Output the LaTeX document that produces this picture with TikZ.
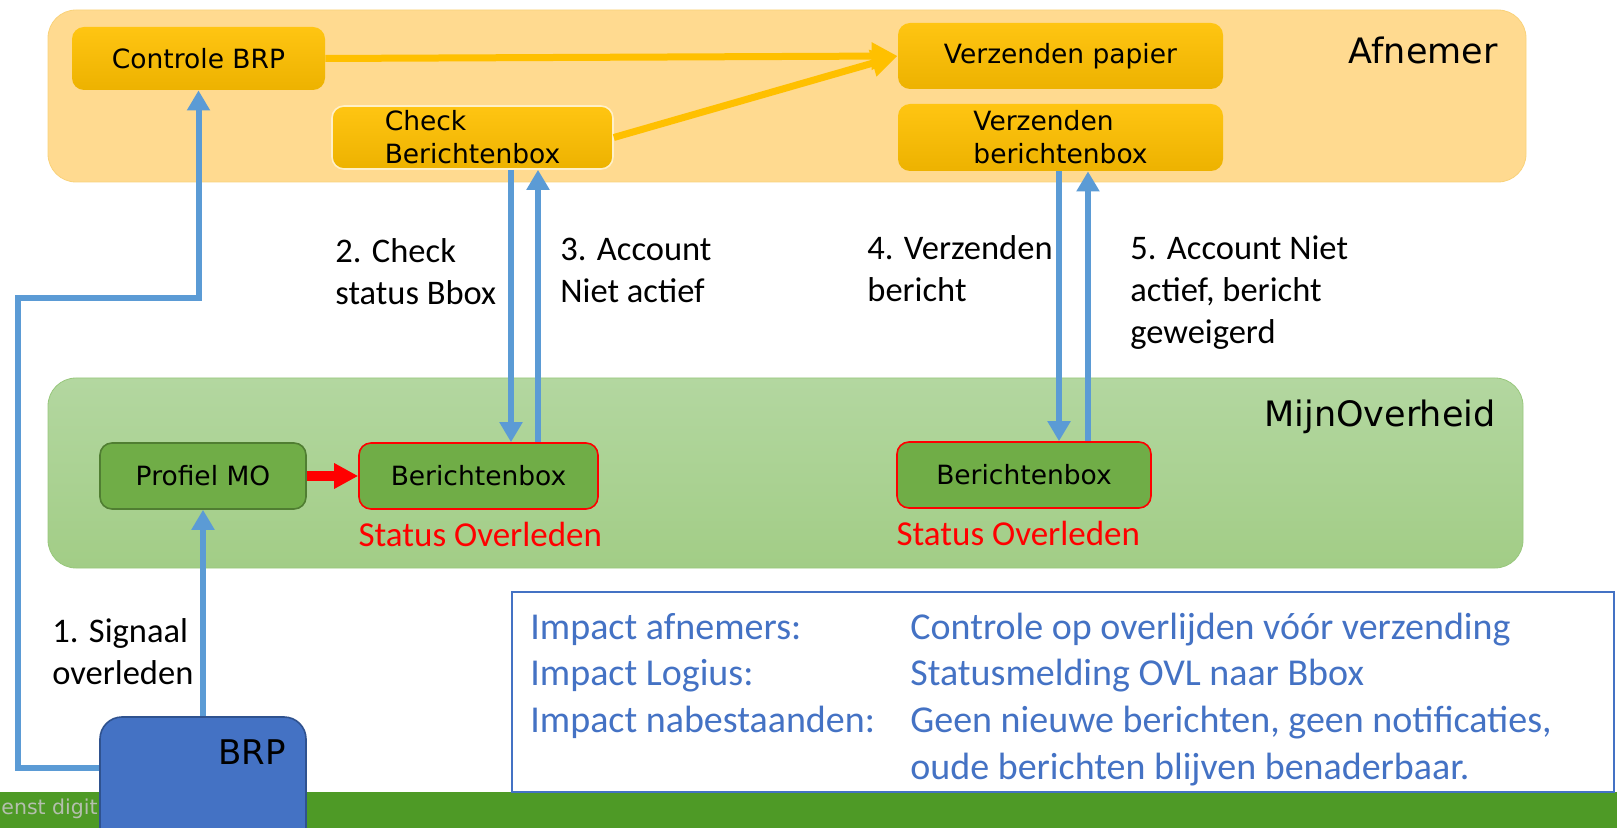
\documentclass[tikz,border=0pt]{standalone}
\usepackage{fontspec}
\setmainfont{Carlito}
\newfontfamily\verdanaish{DejaVu Sans}
\usetikzlibrary{arrows.meta}

\definecolor{afnfill}{HTML}{FFDA90}
\definecolor{afnline}{HTML}{F9D27A}
\definecolor{orgtop}{HTML}{FFC512}
\definecolor{orgbot}{HTML}{EDB200}
\definecolor{orgline}{HTML}{FFC000}
\definecolor{checkline}{HTML}{FFF0C8}
\definecolor{mofilltop}{HTML}{B3D7A0}
\definecolor{mofillbot}{HTML}{A2CD86}
\definecolor{moline}{HTML}{98C77C}
\definecolor{mogreen}{HTML}{70AD47}
\definecolor{mogreenline}{HTML}{507E32}
\definecolor{flowblue}{HTML}{5B9BD5}
\definecolor{brpblue}{HTML}{4472C4}
\definecolor{brpline}{HTML}{2F528F}
\definecolor{footgreen}{HTML}{4E9A26}
\definecolor{footgray}{HTML}{B4BFAE}
\definecolor{alertred}{HTML}{FF0000}

\begin{document}
\begin{tikzpicture}[x=0.5pt,y=-0.5pt,
panel/.style={rounded corners=14pt, inner sep=0pt},
obox/.style={rounded corners=6pt, top color=orgtop, bottom color=orgbot,
 font=\verdanaish\fontsize{13.25}{16.5}\selectfont, align=left, inner sep=0pt},
gbox/.style={rounded corners=6pt, fill=mogreen, line width=0.8pt,
 font=\verdanaish\fontsize{13.25}{16.5}\selectfont, inner sep=0pt},
title/.style={font=\verdanaish\fontsize{17.5}{21}\selectfont, inner sep=0pt},
note/.style={font=\fontsize{17.25}{21}\selectfont, align=left, inner sep=0pt},
status/.style={font=\fontsize{17.5}{21}\selectfont, text=alertred, inner sep=0pt},
flow/.style={draw=flowblue, line width=3pt, -{Triangle[length=10pt,width=11pt]}},
feed/.style={draw=orgline, line width=3.5pt, -{Triangle[length=13pt,width=13pt]}},
block/.style={draw=alertred, line width=5pt, -{Triangle[length=12pt,width=12pt]}}
]
\clip (0,0) rectangle (1617,828);

% footer
\fill[footgreen] (0,792) rectangle (1617,828);
\node[font=\verdanaish\fontsize{10.25}{12}\selectfont, text=footgray, anchor=west, inner sep=0pt] (foot) at (1,809) {enst digit};

% panels
\node[panel, fill=afnfill, draw=afnline, minimum width=739pt, minimum height=86pt] (afnpanel) at (787,96) {};
\node[panel, top color=mofilltop, bottom color=mofillbot, draw=moline, minimum width=737.5pt, minimum height=95pt] (mopanel) at (785.5,473) {};
\node[title, anchor=east] (afn) at (1498,50) {Afnemer};
\node[title, anchor=east] (mo) at (1496,417) {MijnOverheid};

% afnemer
\node[obox, minimum width=126.5pt, minimum height=31.5pt] (ctrl) at (198.5,58.5) {Controle BRP};
\node[obox, draw=checkline, line width=0.8pt, minimum width=140.5pt, minimum height=31.5pt] (check) at (472.5,137.5) {Check\\Berichtenbox};
\node[obox, minimum width=162.5pt, minimum height=33pt] (papier) at (1060.5,56) {Verzenden papier};
\node[obox, minimum width=162.5pt, minimum height=33.5pt] (verzbox) at (1060.5,137.5) {Verzenden\\berichtenbox};

% mijnoverheid
\node[gbox, draw=mogreenline, minimum width=103pt, minimum height=33pt] (prof) at (203,476) {Profiel MO};
\node[gbox, draw=alertred, minimum width=119.5pt, minimum height=33pt] (bbox1) at (478.5,476) {Berichtenbox};
\node[gbox, draw=alertred, minimum width=127pt, minimum height=33pt] (bbox2) at (1024,475) {Berichtenbox};
\node[status, anchor=north west] (st1) at ([yshift=-6pt]bbox1.south west) {Status Overleden};
\node[status, anchor=north west] (st2) at ([yshift=-6pt]bbox2.south west) {Status Overleden};

% BRP
\node[rounded corners=11pt, fill=brpblue, draw=brpline, line width=0.8pt, minimum width=103pt, minimum height=76.5pt] (brp) at (203,793.5) {};
\node[title, font=\verdanaish\fontsize{17}{20}\selectfont] (brplbl) at (252,752) {BRP};

% labels
\node[note, anchor=north west] (l1) at (52,618) {1. Signaal\\overleden};
\node[note, anchor=north west] (l2) at (335,238) {2. Check\\status Bbox};
\node[note, anchor=north west] (l3) at (560,238) {3. Account\\Niet actief};
\node[note, anchor=north west] (l4) at (867,235) {4. Verzenden\\bericht};
\node[note, anchor=north west] (l5) at (1130,235) {5. Account Niet\\actief, bericht\\geweigerd};

% arrows
\draw[feed] (ctrl.east) -- (papier.west);
\draw[feed] (check.east) -- (papier.west);
\draw[block] (prof.east) -- (bbox1.west);

\coordinate (c2) at (511,0);
\coordinate (c3) at (538,0);
\coordinate (c4) at (1059,0);
\coordinate (c5) at (1088,0);
\draw[flow] (c2 |- check.south) -- (c2 |- bbox1.north);
\draw[flow] (c3 |- bbox1.north) -- (c3 |- check.south);
\draw[flow] (c4 |- verzbox.south) -- (c4 |- bbox2.north);
\draw[flow] (c5 |- bbox2.north) -- (c5 |- verzbox.south);

\coordinate (lft) at (18,768);
\coordinate (bend) at (18,298);
\draw[flow] (brp.north) -- (prof.south);
\draw[flow] (lft -| brp.west) -- (lft) -- (bend) -| (ctrl.south);

% impact
\node[draw=brpblue, line width=1pt, minimum width=551pt, minimum height=100pt, inner sep=0pt] (impbox) at (1063,692) {};
\node[font=\fontsize{19}{23.4}\selectfont, text=brpblue, anchor=north west, inner sep=0pt] (impact) at (530,606)
{\begin{tabular}{@{}p{190pt}@{}l@{}}
Impact afnemers: & Controle op overlijden vóór verzending\\
Impact Logius: & Statusmelding OVL naar Bbox\\
Impact nabestaanden: & Geen nieuwe berichten, geen notificaties,\\
 & oude berichten blijven benaderbaar.
\end{tabular}};
\end{tikzpicture}
\end{document}
